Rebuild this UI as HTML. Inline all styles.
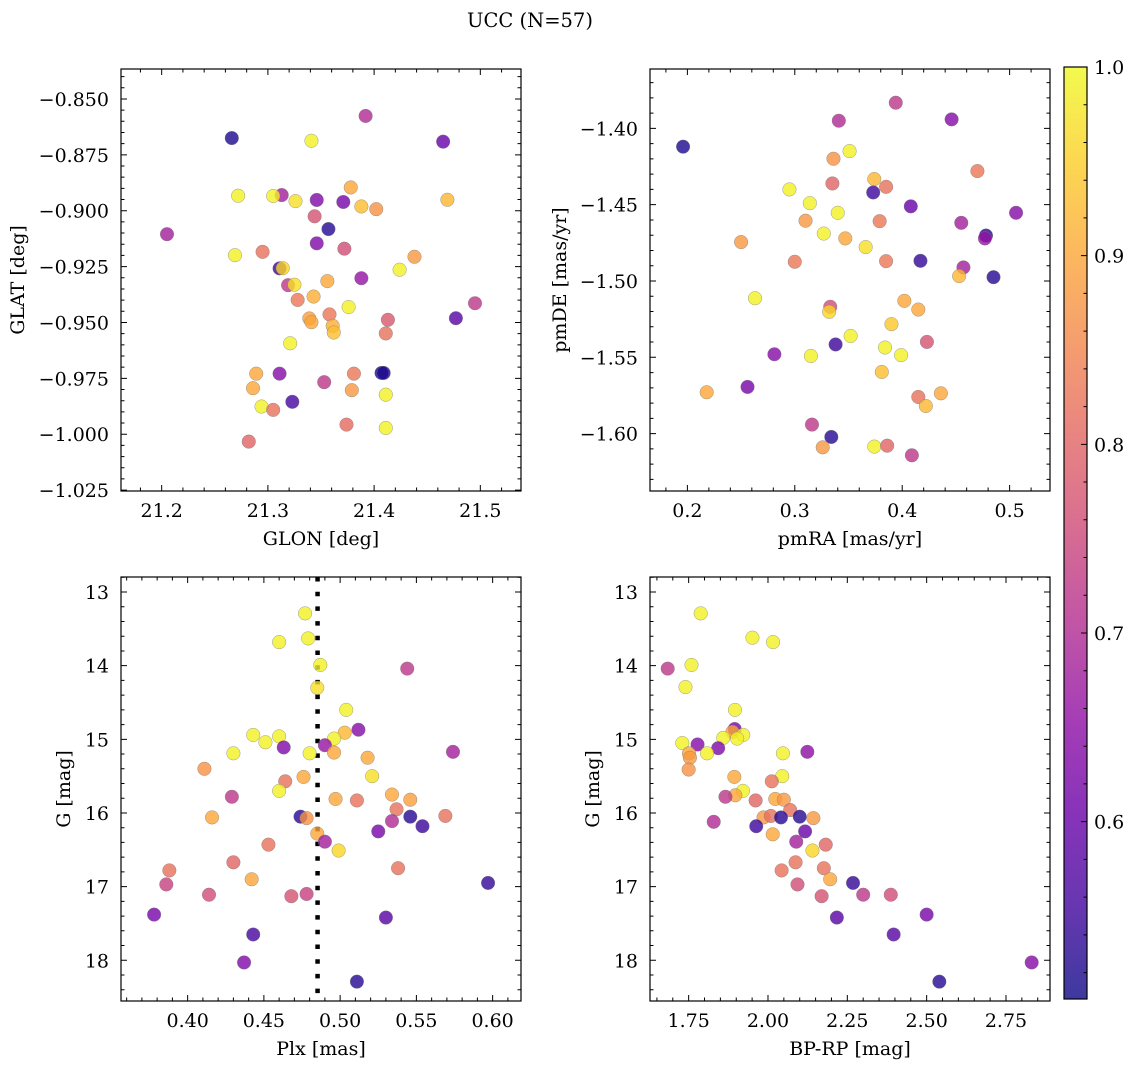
<!DOCTYPE html>
<html><head><meta charset="utf-8"><style>
html,body{margin:0;padding:0;background:#fff;}
svg text{font-family:"DejaVu Serif","Liberation Serif",serif;fill:#000;}
</style></head><body>
<svg id="fig" width="1136" height="1067" viewBox="0 0 1136 1067" xmlns="http://www.w3.org/2000/svg">
<text x="530" y="27" font-size="19.5" text-anchor="middle">UCC (N=57)</text>
</svg>
<script>
// Panel 1: GLON / GLAT
const glon1 = [21.392,21.266,21.341,21.465,21.378,21.272,21.313,21.305,21.326,21.346,21.371,21.388,21.402,21.469,21.344,21.357,21.205,21.346,21.372,21.269,21.295,21.438,21.311,21.314,21.424,21.356,21.319,21.325,21.388,21.328,21.343,21.376,21.495,21.339,21.341,21.358,21.361,21.362,21.413,21.411,21.477,21.321,21.289,21.311,21.381,21.407,21.409,21.353,21.286,21.379,21.411,21.323,21.294,21.305,21.374,21.411,21.282];
const glat1 = [-0.8576,-0.8675,-0.8687,-0.8691,-0.8896,-0.8933,-0.8930,-0.8934,-0.8957,-0.8952,-0.8961,-0.8981,-0.8993,-0.8951,-0.9025,-0.9082,-0.9105,-0.9146,-0.9170,-0.9199,-0.9184,-0.9206,-0.9258,-0.9257,-0.9264,-0.9315,-0.9333,-0.9331,-0.9302,-0.9399,-0.9384,-0.9431,-0.9414,-0.9482,-0.9499,-0.9464,-0.9515,-0.9545,-0.9488,-0.9549,-0.9481,-0.9593,-0.9729,-0.9729,-0.9729,-0.9726,-0.9726,-0.9767,-0.9794,-0.9803,-0.9823,-0.9855,-0.9876,-0.9891,-0.9957,-0.9972,-1.0033];
const prob1 = [0.70,0.52,0.99,0.60,0.90,0.99,0.68,0.99,0.97,0.63,0.62,0.93,0.87,0.92,0.77,0.53,0.68,0.63,0.76,0.99,0.82,0.88,0.55,0.96,0.99,0.90,0.72,0.97,0.66,0.83,0.91,0.99,0.72,0.89,0.90,0.83,0.91,0.93,0.78,0.82,0.58,0.99,0.90,0.64,0.83,0.51,0.52,0.72,0.90,0.88,0.99,0.56,0.99,0.82,0.81,0.99,0.80];
// Panel 2: pmRA / pmDE
const pmra2 = [0.394,0.341,0.446,0.196,0.351,0.336,0.470,0.374,0.335,0.373,0.385,0.295,0.314,0.340,0.408,0.506,0.310,0.379,0.455,0.327,0.347,0.478,0.477,0.250,0.366,0.300,0.385,0.417,0.457,0.453,0.485,0.263,0.402,0.415,0.333,0.332,0.390,0.423,0.352,0.338,0.281,0.315,0.384,0.399,0.381,0.256,0.218,0.436,0.415,0.422,0.316,0.334,0.326,0.374,0.386,0.409];
const pmde2 = [-1.3832,-1.3950,-1.3941,-1.4120,-1.4149,-1.4199,-1.4280,-1.4332,-1.4361,-1.4420,-1.4383,-1.4400,-1.4490,-1.4553,-1.4511,-1.4553,-1.4605,-1.4608,-1.4619,-1.4689,-1.4721,-1.4702,-1.4721,-1.4745,-1.4778,-1.4874,-1.4870,-1.4868,-1.4911,-1.4968,-1.4975,-1.5113,-1.5130,-1.5187,-1.5169,-1.5202,-1.5283,-1.5399,-1.5360,-1.5416,-1.5480,-1.5491,-1.5436,-1.5486,-1.5596,-1.5694,-1.5729,-1.5736,-1.5760,-1.5819,-1.5941,-1.6022,-1.6090,-1.6085,-1.6079,-1.6142];
const prob2 = [0.72,0.70,0.64,0.52,0.99,0.87,0.83,0.92,0.80,0.55,0.82,0.99,0.99,0.99,0.60,0.64,0.88,0.83,0.68,0.99,0.90,0.53,0.66,0.88,0.97,0.83,0.83,0.54,0.68,0.92,0.53,0.99,0.90,0.90,0.76,0.96,0.94,0.77,0.99,0.55,0.64,0.99,0.99,0.99,0.93,0.62,0.90,0.90,0.82,0.92,0.72,0.53,0.88,0.99,0.80,0.72];
// Panel 3: Plx / G
const plx3 = [0.477,0.479,0.460,0.487,0.544,0.485,0.504,0.512,0.503,0.443,0.460,0.496,0.451,0.490,0.463,0.496,0.574,0.430,0.480,0.518,0.411,0.476,0.521,0.464,0.460,0.534,0.429,0.497,0.511,0.546,0.537,0.416,0.474,0.478,0.546,0.569,0.534,0.554,0.525,0.485,0.490,0.499,0.453,0.430,0.388,0.538,0.442,0.386,0.597,0.414,0.468,0.478,0.378,0.530,0.443,0.437,0.511];
const g3 = [13.29,13.63,13.68,13.99,14.04,14.30,14.60,14.87,14.91,14.94,14.96,14.99,15.04,15.08,15.11,15.18,15.17,15.19,15.19,15.25,15.40,15.51,15.50,15.57,15.70,15.75,15.78,15.81,15.83,15.82,15.95,16.06,16.05,16.07,16.05,16.04,16.11,16.18,16.25,16.28,16.39,16.51,16.43,16.67,16.78,16.75,16.90,16.97,16.95,17.11,17.13,17.10,17.38,17.42,17.65,18.03,18.29];
const prob3 = [0.99,0.99,0.99,0.99,0.72,0.97,0.99,0.64,0.92,0.99,0.99,0.99,0.99,0.66,0.63,0.90,0.68,0.99,0.99,0.90,0.87,0.90,0.97,0.82,0.99,0.90,0.72,0.90,0.82,0.89,0.82,0.90,0.53,0.87,0.53,0.82,0.70,0.55,0.62,0.90,0.68,0.96,0.82,0.80,0.82,0.82,0.90,0.74,0.54,0.76,0.77,0.74,0.62,0.58,0.56,0.63,0.53];
const plxRef = 0.4852;
// Panel 4: BP-RP / G
const bprp4 = [1.788,1.951,2.016,1.684,1.759,1.740,1.896,1.895,1.888,1.859,1.922,1.903,1.730,1.778,1.843,1.808,1.751,1.754,2.047,2.124,1.750,1.894,2.045,2.012,1.921,1.897,1.866,1.961,2.023,2.050,2.070,1.986,2.009,2.041,2.100,2.143,1.963,2.117,2.015,2.089,2.182,2.140,1.829,2.087,2.043,2.176,2.196,2.093,2.268,2.300,2.169,2.387,2.500,2.217,2.396,2.831,2.540];
const g4 = [13.29,13.62,13.68,14.04,13.99,14.29,14.60,14.86,14.90,14.98,14.94,14.99,15.05,15.07,15.12,15.19,15.19,15.25,15.19,15.17,15.41,15.51,15.50,15.57,15.70,15.76,15.78,15.83,15.81,15.82,15.96,16.06,16.04,16.06,16.05,16.07,16.18,16.25,16.29,16.39,16.43,16.51,16.12,16.67,16.78,16.75,16.90,16.97,16.95,17.11,17.13,17.11,17.38,17.42,17.65,18.03,18.29];
const prob4 = [0.99,0.99,0.99,0.72,0.99,0.99,0.99,0.62,0.90,0.99,0.99,0.99,0.99,0.64,0.63,0.99,0.90,0.88,0.99,0.65,0.87,0.90,0.99,0.82,0.99,0.90,0.72,0.80,0.90,0.88,0.82,0.88,0.82,0.53,0.53,0.88,0.55,0.60,0.90,0.68,0.80,0.96,0.70,0.82,0.82,0.82,0.90,0.76,0.54,0.72,0.77,0.76,0.62,0.58,0.58,0.64,0.53];
// Tick labels
const xt1 = [21.2,21.3,21.4,21.5], xt1Lab = ["21.2","21.3","21.4","21.5"];
const yt1 = [-0.85,-0.875,-0.9,-0.925,-0.95,-0.975,-1.0,-1.025], yt1Lab = ["−0.850","−0.875","−0.900","−0.925","−0.950","−0.975","−1.000","−1.025"];
const xt2 = [0.2,0.3,0.4,0.5], xt2Lab = ["0.2","0.3","0.4","0.5"];
const yt2 = [-1.40,-1.45,-1.50,-1.55,-1.60], yt2Lab = ["−1.40","−1.45","−1.50","−1.55","−1.60"];
const xt3 = [0.40,0.45,0.50,0.55,0.60], xt3Lab = ["0.40","0.45","0.50","0.55","0.60"];
const ytG = [13,14,15,16,17,18], ytGLab = ["13","14","15","16","17","18"];
const xt4 = [1.75,2.00,2.25,2.50,2.75], xt4Lab = ["1.75","2.00","2.25","2.50","2.75"];
const cbTicks = [0.6,0.7,0.8,0.9,1.0], cbLab = ["0.6","0.7","0.8","0.9","1.0"];
const vmin = 0.506, vmax = 1.0;

const FS = 19;
const NS = "http://www.w3.org/2000/svg";
const svg = document.getElementById('fig');
const plasma = ["#0d0887","#41049d","#6a00a8","#8f0da4","#b12a90","#cc4778","#e16462","#f2844b","#fca636","#fcce25","#f0f921"];
function hex(h){return [parseInt(h.slice(1,3),16),parseInt(h.slice(3,5),16),parseInt(h.slice(5,7),16)];}
function cmap(v){
  let t=(v-vmin)/(vmax-vmin); t=Math.max(0,Math.min(1,t));
  const f=t*10, i=Math.min(9,Math.floor(f)), r=f-i;
  const a=hex(plasma[i]), b=hex(plasma[i+1]);
  return "rgb("+a.map((c,k)=>Math.round(c+(b[k]-c)*r)).join(",")+")";
}
function mk(tag, attrs){const e=document.createElementNS(NS,tag);for(const k in attrs)e.setAttribute(k,attrs[k]);return e;}

function panel(name, box, xlim, ylim, xs, ys, ps, xt, xtl, yt, ytl, xminor, yminor, xlabel, ylabel, ylabX, extra){
  const g = mk('g',{});
  
  
  svg.appendChild(g);
  const X = v => box.x + (v-xlim[0])/(xlim[1]-xlim[0])*box.w;
  const Y = v => box.y + (ylim[1]-v)/(ylim[1]-ylim[0])*box.h;
  if (extra) extra(g, X, Y);
  for (let i=0;i<xs.length;i++){
    const c = mk('circle',{cx:X(xs[i]),cy:Y(ys[i]),r:6.8,fill:cmap(ps[i]),'fill-opacity':0.8,stroke:'#777','stroke-width':0.5,'stroke-opacity':0.7});
    
    
    g.appendChild(c);
  }
  const fr = mk('rect',{x:box.x,y:box.y,width:box.w,height:box.h,fill:'none',stroke:'#000','stroke-width':1.2});
  
  
  g.appendChild(fr);
  let d='';
  const lo=Math.min(xlim[0],xlim[1]), hi=Math.max(xlim[0],xlim[1]);
  for (let v=Math.ceil(lo/xminor-1e-6)*xminor; v<=hi+1e-9; v+=xminor){
    const isMaj = xt.some(t=>Math.abs(t-v)<xminor*0.1); const L=isMaj?6:3.5; const px=X(v);
    d+=`M${px},${box.y+box.h}v${-L}M${px},${box.y}v${L}`;
  }
  const ylo=Math.min(ylim[0],ylim[1]), yhi=Math.max(ylim[0],ylim[1]);
  for (let v=Math.ceil(ylo/yminor-1e-6)*yminor; v<=yhi+1e-9; v+=yminor){
    const isMaj = yt.some(t=>Math.abs(t-v)<yminor*0.1); const L=isMaj?6:3.5; const py=Y(v);
    d+=`M${box.x},${py}h${L}M${box.x+box.w},${py}h${-L}`;
  }
  const tk = mk('path',{d:d,stroke:'#000','stroke-width':1,fill:'none'});
  
  
  g.appendChild(tk);
  xt.forEach((v,i)=>{
    const t=mk('text',{x:X(v),y:box.y+box.h+26,'font-size':FS,'text-anchor':'middle'}); t.textContent=xtl[i];
    
    
    g.appendChild(t);
  });
  yt.forEach((v,i)=>{
    const t=mk('text',{x:box.x-12,y:Y(v)+7,'font-size':FS,'text-anchor':'end'}); t.textContent=ytl[i];
    
    
    g.appendChild(t);
  });
  const xl=mk('text',{x:box.x+box.w/2,y:box.y+box.h+54,'font-size':FS,'text-anchor':'middle'}); xl.textContent=xlabel;
  
  
  g.appendChild(xl);
  const cy=box.y+box.h/2;
  const yl=mk('text',{x:ylabX,y:cy,'font-size':FS,'text-anchor':'middle',transform:`rotate(-90 ${ylabX} ${cy})`}); yl.textContent=ylabel;
  
  
  g.appendChild(yl);
}

panel('glon-glat-panel',{x:121,y:69,w:400,h:422},[21.1617,21.5383],[-1.0254,-0.8366],glon1,glat1,prob1,xt1,xt1Lab,yt1,yt1Lab,0.02,0.005,'GLON [deg]','GLAT [deg]',24);
panel('pm-panel',{x:650,y:69,w:400,h:422},[0.1652,0.5376],[-1.6376,-1.3611],pmra2,pmde2,prob2,xt2,xt2Lab,yt2,yt2Lab,0.02,0.01,'pmRA [mas/yr]','pmDE [mas/yr]',566);
panel('plx-g-panel',{x:121,y:577,w:400,h:424},[0.3563,0.6186],[-18.553,-12.796],plx3,g3.map(v=>-v),prob3,xt3,xt3Lab,ytG.map(v=>-v),ytGLab,0.01,0.2,'Plx [mas]','G [mag]',70,
  (g,X,Y)=>{const l=mk('line',{x1:X(plxRef),x2:X(plxRef),y1:577,y2:1001,stroke:'#000','stroke-width':4.5,'stroke-dasharray':'4.5 10.2'});
    
    
    g.appendChild(l);});
panel('cmd-panel',{x:650,y:577,w:400,h:424},[1.6282,2.8887],[-18.553,-12.796],bprp4,g4.map(v=>-v),prob4,xt4,xt4Lab,ytG.map(v=>-v),ytGLab,0.05,0.2,'BP-RP [mag]','G [mag]',599);

// Colorbar
(function(){
  const cb={x:1064,y:67,w:23,h:932};
  const g=mk('g',{});
  
  
  svg.appendChild(g);
  const defs=mk('defs',{}); const lg=mk('linearGradient',{id:'cbg',x1:0,y1:1,x2:0,y2:0});
  for(let i=0;i<=20;i++){const v=vmin+(vmax-vmin)*i/20; lg.appendChild(mk('stop',{offset:(i/20),'stop-color':cmap(v),'stop-opacity':0.8}));}
  defs.appendChild(lg); g.appendChild(defs);
  const r=mk('rect',{x:cb.x,y:cb.y,width:cb.w,height:cb.h,fill:'url(#cbg)',stroke:'#000','stroke-width':1.2});
  
  
  g.appendChild(r);
  const Y=v=>cb.y+(vmax-v)/(vmax-vmin)*cb.h;
  let d='';
  for(let v=0.52; v<=1.0001; v+=0.02){const maj=cbTicks.some(t=>Math.abs(t-v)<0.002); d+=`M${cb.x+cb.w},${Y(v)}h${maj?-6:-3.5}`;}
  g.appendChild(mk('path',{d:d,stroke:'#000','stroke-width':1}));
  cbTicks.forEach((v,i)=>{const t=mk('text',{x:cb.x+cb.w+7,y:Y(v)+7,'font-size':FS}); t.textContent=cbLab[i];
    
    
    g.appendChild(t);});
})();
</script>
</body></html>
